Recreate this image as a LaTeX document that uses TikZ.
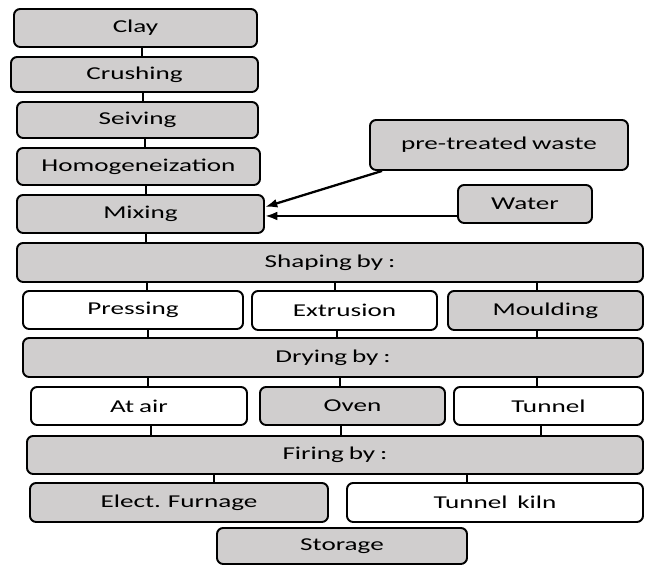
\documentclass[tikz,border=0pt]{standalone}
\usepackage{fontspec}
\setmainfont{Carlito}[FakeStretch=1.5,WordSpace=0.8]
\usepackage{tikz}
\usetikzlibrary{arrows.meta,positioning,calc}
\definecolor{boxgray}{RGB}{208,206,206}

\begin{document}
\begin{tikzpicture}[>={Latex[length=7pt,width=5pt]},
  box/.style={draw,line width=1.1pt,rounded corners=3.5pt,fill=boxgray,
    inner sep=0pt,font=\fontsize{10.3}{12}\selectfont},
  wbox/.style={box,fill=white},
  link/.style={line width=1.6pt}]
 \useasboundingbox (0,0) rectangle (12.92,-11.30);
 % main column
 \node[box,minimum width=4.86cm,minimum height=0.76cm] (clay) at (2.71,-0.56) {Clay};
 \node[box,minimum width=4.94cm,minimum height=0.70cm] (crush) at (2.69,-1.49) {Crushing};
 \node[box,minimum width=4.82cm,minimum height=0.72cm] (seive) at (2.75,-2.40) {Seiving};
 \node[box,minimum width=4.86cm,minimum height=0.74cm] (homog) at (2.77,-3.33) {Homogeneization};
 \node[box,minimum width=4.94cm,minimum height=0.76cm] (mix) at (2.81,-4.28) {Mixing};
 \node[box,minimum width=5.16cm,minimum height=1.00cm] (waste) at (9.98,-2.90) {pre-treated waste};
 \node[box,minimum width=2.68cm,minimum height=0.76cm] (water) at (10.50,-4.08) {Water};
 % shaping
 \node[box,minimum width=12.52cm,minimum height=0.78cm] (shape) at (6.60,-5.25) {Shaping by :};
 \node[wbox,minimum width=4.40cm,minimum height=0.76cm] (press) at (2.66,-6.20) {Pressing};
 \node[wbox,minimum width=3.70cm,minimum height=0.78cm] (extr) at (6.89,-6.21) {Extrusion};
 \node[box,minimum width=3.90cm,minimum height=0.78cm] (mould) at (10.91,-6.21) {Moulding};
 % drying
 \node[box,minimum width=12.40cm,minimum height=0.78cm] (dry) at (6.66,-7.15) {Drying by :};
 \node[wbox,minimum width=4.32cm,minimum height=0.76cm] (air) at (2.78,-8.12) {At air};
 \node[box,minimum width=3.70cm,minimum height=0.76cm] (oven) at (7.05,-8.12) {Oven};
 \node[wbox,minimum width=3.78cm,minimum height=0.76cm] (tunnel) at (10.97,-8.12) {Tunnel};
 % firing
 \node[box,minimum width=12.32cm,minimum height=0.76cm] (fire) at (6.70,-9.10) {Firing by :};
 \node[box,minimum width=5.96cm,minimum height=0.78cm] (furn) at (3.58,-10.05) {Elect. Furnage};
 \node[wbox,minimum width=5.92cm,minimum height=0.78cm] (kiln) at (9.90,-10.05) {Tunnel\ \ kiln};
 \node[box,minimum width=5.00cm,minimum height=0.72cm] (store) at (6.84,-10.92) {Storage};
 % vertical links
 \foreach \a/\b/\x in {clay/crush/2.84,crush/seive/2.86,seive/homog/2.90,homog/mix/2.92,
   mix/shape/2.92,shape/press/2.94,shape/extr/6.70,shape/mould/10.74,
   press/dry/2.96,extr/dry/6.74,mould/dry/10.74,dry/air/2.96,dry/oven/6.80,dry/tunnel/10.74,
   air/fire/3.02,oven/fire/6.82,tunnel/fire/10.82,fire/furn/4.28,fire/kiln/9.34}
  \draw[link] (\a.south -| \x,0) -- (\b.north -| \x,0);
 % additions
 \draw[->,line width=1.3pt] ([xshift=0.26cm]waste.south west) -- ([yshift=0.14cm]mix.east);
 \draw[->,line width=1.3pt] ([yshift=-0.24cm]water.west) -- ([yshift=-0.24cm]water.west -| mix.east);
\end{tikzpicture}
\end{document}
